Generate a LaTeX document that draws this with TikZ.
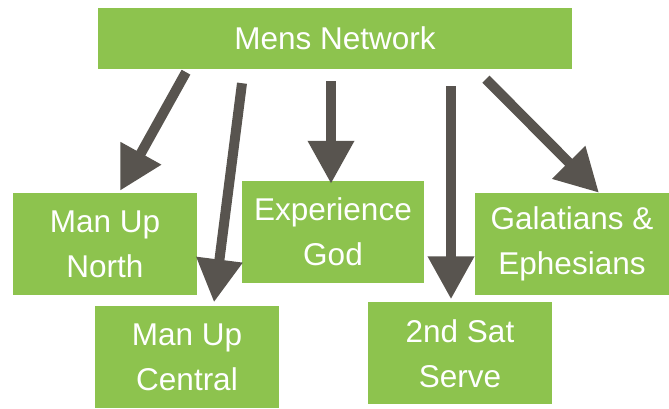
\documentclass[tikz,border=0pt]{standalone}
\usepackage{fontspec}
\setmainfont{Liberation Sans}
\usetikzlibrary{arrows.meta}
\definecolor{boxgreen}{HTML}{8DC34E}
\definecolor{arrowgray}{HTML}{58544F}
\begin{document}
\begin{tikzpicture}[x=1pt,y=1pt]

      \useasboundingbox (0,0) rectangle (669,409);

      \begin{scope}[every node/.style={rectangle,fill=boxgreen,text=white,inner sep=0pt,
          align=center,font=\fontsize{31.5}{45}\selectfont,minimum height=102pt}]
        \node[minimum width=474pt,minimum height=61pt] (net) at (335,370.5) {Mens Network};
        \node[minimum width=184pt] (north)   at (105,165)   {Man Up\\North};
        \node[minimum width=184pt] (central) at (187,51.5)  {Man Up\\Central};
        \node[minimum width=182pt] (god)     at (333,177)   {Experience\\God};
        \node[minimum width=184pt] (serve)   at (460,55.5)  {2nd Sat\\Serve};
        \node[minimum width=194pt] (gal)     at (572,165)   {Galatians \&\\Ephesians};
      \end{scope}

      \begin{scope}[every edge/.style={draw=arrowgray,line width=10pt,
          -{Triangle[length=43pt,width=44pt]}}]
        \path ([xshift=-149pt,yshift=-3pt]net.south)  edge ([xshift=15pt,yshift=2pt]north.north);
        \path ([xshift=-93pt,yshift=-14pt]net.south)  edge ([xshift=27pt,yshift=4pt]central.north);
        \path ([xshift=-4pt,yshift=-12pt]net.south)   edge ([xshift=-2pt,yshift=-3pt]god.north);
        \path ([xshift=116pt,yshift=-17pt]net.south)  edge ([xshift=-9pt,yshift=3pt]serve.north);
        \path ([xshift=151pt,yshift=-10pt]net.south)  edge ([xshift=27pt]gal.north);
      \end{scope}

    \end{tikzpicture}
\end{document}
